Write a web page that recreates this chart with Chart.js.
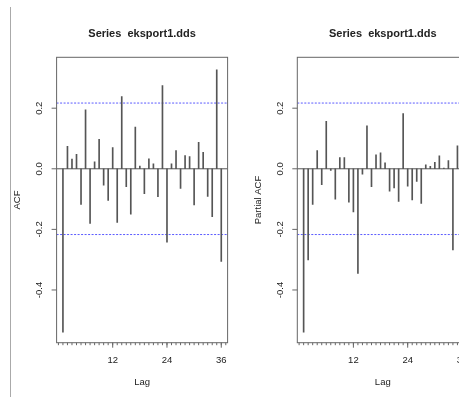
<!DOCTYPE html>
<html>
<head>
<meta charset="utf-8">
<title>ACF / PACF eksport1.dds</title>
<script src="https://cdn.jsdelivr.net/npm/chart.js@4.4.1/dist/chart.umd.min.js"></script>
<style>
  html, body { margin: 0; padding: 0; background: #fff; overflow: hidden; }
  #wrap { position: relative; width: 459px; height: 397px; overflow: hidden; }
  canvas { position: absolute; top: 0; }
  #acfCanvas { left: 0; }
  #pacfCanvas { left: 230px; }
</style>
</head>
<body>
<div id="wrap">
  <canvas id="acfCanvas" width="230" height="397"></canvas>
  <canvas id="pacfCanvas" width="240" height="397"></canvas>
</div>
<script>
// ============================================================================
// Data
// ============================================================================

const LAGS = [
  1, 2, 3, 4, 5, 6, 7, 8, 9, 10, 11, 12,
  13, 14, 15, 16, 17, 18, 19, 20, 21, 22, 23, 24,
  25, 26, 27, 28, 29, 30, 31, 32, 33, 34, 35, 36
];

const ACF_VALUES = [
  -0.539, 0.074, 0.032, 0.048, -0.118, 0.195, -0.180, 0.023, 0.097, -0.054, -0.104, 0.070,
  -0.177, 0.238, -0.059, -0.150, 0.138, 0.009, -0.082, 0.033, 0.016, -0.092, 0.275, -0.242,
  0.016, 0.060, -0.065, 0.044, 0.040, -0.119, 0.087, 0.054, -0.091, -0.158, 0.327, -0.306
];

// lag 36 falls outside the visible picture
const PACF_VALUES = [
  -0.539, -0.301, -0.118, 0.060, -0.052, 0.157, -0.005, -0.100, 0.037, 0.037, -0.110, -0.142,
  -0.345, -0.018, 0.142, -0.059, 0.046, 0.053, 0.020, -0.074, -0.063, -0.108, 0.182, -0.057,
  -0.103, -0.042, -0.114, 0.013, 0.008, 0.021, 0.043, 0.002, 0.027, -0.268, 0.076, null
];

const CLIM = 0.217;                       // 95% confidence bound
const X_TICKS = [12, 24, 36];
const X_MINOR_TICKS = [0, 1, 2, 3, 4, 5, 6, 7, 8, 9, 10, 11, 12, 13, 14, 15, 16, 17, 18,
  19, 20, 21, 22, 23, 24, 25, 26, 27, 28, 29, 30, 31, 32, 33, 34, 35, 36, 37];
const Y_TICKS = [-0.4, -0.2, 0.0, 0.2];
const Y_TICK_LABELS = ['-0.4', '-0.2', '0.0', '0.2'];

const X_MIN = -0.4, X_MAX = 37.4;
const Y_MIN = -0.574, Y_MAX = 0.368;

const TITLE = 'Series  eksport1.dds';

// ============================================================================
// Styling
// ============================================================================

const FONT = "'Liberation Sans', Arial, Helvetica, sans-serif";
const TEXT_COLOR = '#222';
const FRAME_COLOR = '#666';
const BAR_COLOR = '#555';
const CLIM_COLOR = '#5a5aff';

// ============================================================================
// R-style axes plugin
// ============================================================================

/**
 * Draws the box, the zero line, ticks, tick labels, title and axis labels
 */
const rAxesPlugin = {
  id: 'rAxes',
  beforeDatasetsDraw(chart, args, opts) {
    const { ctx, chartArea: a, scales: { y } } = chart;
    const y0 = y.getPixelForValue(0);
    ctx.save();
    ctx.strokeStyle = '#555';
    ctx.lineWidth = 1;
    ctx.beginPath();
    ctx.moveTo(a.left, y0);
    ctx.lineTo(a.right, y0);
    ctx.stroke();
    ctx.restore();
  },
  afterDraw(chart, args, opts) {
    const { ctx, chartArea: a, scales: { x, y } } = chart;
    ctx.save();

    // frame
    ctx.strokeStyle = FRAME_COLOR;
    ctx.lineWidth = 1;
    ctx.strokeRect(a.left, a.top, a.right - a.left, a.bottom - a.top);

    // x ticks
    ctx.beginPath();
    X_MINOR_TICKS.forEach(v => {
      const px = x.getPixelForValue(v);
      ctx.moveTo(px, a.bottom);
      ctx.lineTo(px, a.bottom + 2.5);
    });
    X_TICKS.forEach(v => {
      const px = x.getPixelForValue(v);
      ctx.moveTo(px, a.bottom);
      ctx.lineTo(px, a.bottom + 5);
    });
    // y ticks
    Y_TICKS.forEach(v => {
      const py = y.getPixelForValue(v);
      ctx.moveTo(a.left, py);
      ctx.lineTo(a.left - 5, py);
    });
    ctx.stroke();

    ctx.fillStyle = TEXT_COLOR;

    // x tick labels
    ctx.font = `9.5px ${FONT}`;
    ctx.textAlign = 'center';
    ctx.textBaseline = 'alphabetic';
    X_TICKS.forEach(v => {
      ctx.fillText(String(v), x.getPixelForValue(v), a.bottom + 20.5);
    });

    // y tick labels, rotated like R's las = 0
    Y_TICKS.forEach((v, i) => {
      ctx.save();
      ctx.translate(a.left - 17, y.getPixelForValue(v));
      ctx.rotate(-Math.PI / 2);
      ctx.textBaseline = 'middle';
      ctx.fillText(Y_TICK_LABELS[i], 0, 0);
      ctx.restore();
    });

    const cx = (a.left + a.right) / 2;
    const cy = (a.top + a.bottom) / 2;

    // x axis label
    ctx.fillText('Lag', cx, a.bottom + 42.5);

    // y axis label
    ctx.save();
    ctx.translate(opts.yLabelX, cy);
    ctx.rotate(-Math.PI / 2);
    ctx.textBaseline = 'middle';
    ctx.fillText(opts.yLabel, 0, 0);
    ctx.restore();

    // title
    ctx.font = `bold 11px ${FONT}`;
    ctx.fillText(TITLE, cx, 36.5);

    // page separator at the far left
    if (opts.separator) {
      ctx.strokeStyle = '#aaa';
      ctx.beginPath();
      ctx.moveTo(10.5, 7);
      ctx.lineTo(10.5, 397);
      ctx.stroke();
    }
    ctx.restore();
  }
};

// ============================================================================
// Chart builder
// ============================================================================

/**
 * Build one correlogram panel
 */
function buildPanel(canvasId, values, yLabel, padding, yLabelX, separator) {
  const points = LAGS.map((lag, i) => ({ x: lag, y: values[i] }));
  return new Chart(document.getElementById(canvasId), {
    type: 'bar',
    data: {
      datasets: [
        {
          data: points,
          backgroundColor: BAR_COLOR,
          barThickness: 1,
          borderWidth: 0
        },
        {
          type: 'line',
          data: [{ x: X_MIN, y: CLIM }, { x: X_MAX, y: CLIM }],
          borderColor: CLIM_COLOR,
          borderWidth: 1,
          borderDash: [2, 1.5],
          pointRadius: 0
        },
        {
          type: 'line',
          data: [{ x: X_MIN, y: -CLIM }, { x: X_MAX, y: -CLIM }],
          borderColor: CLIM_COLOR,
          borderWidth: 1,
          borderDash: [2, 1.5],
          pointRadius: 0
        }
      ]
    },
    options: {
      responsive: false,
      animation: false,
      devicePixelRatio: 1,
      events: [],
      layout: { padding: padding },
      scales: {
        x: { type: 'linear', min: X_MIN, max: X_MAX, offset: false, bounds: 'ticks', display: false },
        y: { type: 'linear', min: Y_MIN, max: Y_MAX, display: false }
      },
      plugins: {
        legend: { display: false },
        tooltip: { enabled: false },
        rAxes: { yLabel: yLabel, yLabelX: yLabelX, separator: separator }
      }
    },
    plugins: [rAxesPlugin]
  });
}

// ============================================================================
// Startup
// ============================================================================

buildPanel('acfCanvas', ACF_VALUES, 'ACF',
  { left: 56.6, top: 57.3, right: 2.4, bottom: 54.3 }, 17, true);

buildPanel('pacfCanvas', PACF_VALUES, 'Partial ACF',
  { left: 67.3, top: 57.3, right: 1.7, bottom: 54.3 }, 28, false);
</script>
</body>
</html>
